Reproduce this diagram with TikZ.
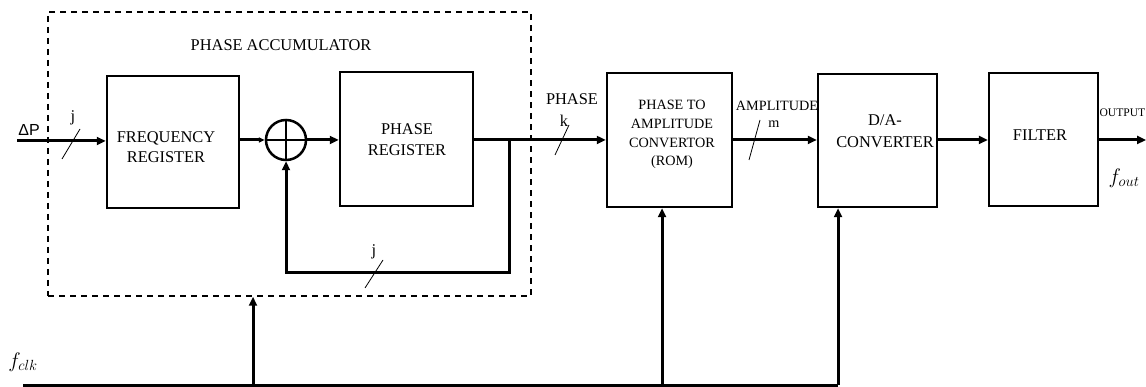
\RequirePackage{fix-cm}
\documentclass[tikz,border=0pt]{standalone}
\usepackage{fontspec}
\setmainfont{Liberation Serif}
\newfontfamily\labelsans{Liberation Sans}
\usetikzlibrary{arrows.meta}
\begin{document}
\begin{tikzpicture}[x=1pt,y=-1pt,
  box/.style={draw, line width=2.5pt, inner sep=0pt},
  sig/.style={line width=3pt, -{Triangle[length=9pt,width=8pt]}},
  wire/.style={line width=3pt},
  slash/.style={line width=0.8pt},
  txt/.style={inner sep=0pt, align=center, font=\fontsize{16.4}{20.5}\selectfont},
  smalltxt/.style={inner sep=0pt, align=center, font=\fontsize{14.2}{18.7}\selectfont},
  mathtxt/.style={inner sep=0pt, font=\fontsize{21}{24}\selectfont}]
\useasboundingbox (0,0) rectangle (1146,387);

% phase accumulator frame
\node[draw, dashed, dash pattern=on 6pt off 5pt, line width=1.5pt, inner sep=0pt,
      minimum width=483pt, minimum height=284pt] (acc) at (289.5,154) {};
\node[txt] (acctitle) at (281,45) {PHASE ACCUMULATOR};

% blocks
\node[box, minimum width=132pt, minimum height=132pt] (freq) at (173,142) {};
\node[txt] (freqtxt) at (166,147) {FREQUENCY\\REGISTER};
\node[box, circle, minimum size=40pt] (add) at (286,140) {};
\draw[line width=2pt] (add.north) -- (add.south) (add.west) -- (add.east);
\node[box, minimum width=133pt, minimum height=134pt] (preg) at (406.5,139) {};
\node[txt] (pregtxt) at (407,139.5) {PHASE\\REGISTER};
\node[box, minimum width=125pt, minimum height=134pt] (rom) at (669.5,140) {};
\node[smalltxt] (romtxt) at (672,134.5) {PHASE TO\\AMPLITUDE\\CONVERTOR\\(ROM)};
\node[box, minimum width=119pt, minimum height=133pt] (da) at (877.5,140.5) {};
\node[txt, font=\fontsize{16.4}{22}\selectfont] (datxt) at (885,131) {D/A-\\CONVERTER};
\node[box, minimum width=109pt, minimum height=133pt] (filt) at (1043.5,139.5) {};
\node[txt] (filttxt) at (1040,135) {FILTER};

% signal path
\coordinate (in) at (17,141);
\coordinate (tap) at (509,140);
\coordinate (fbl) at (509,273);
\coordinate (fbr) at (286,273);
\coordinate (out) at (1146,140);
\draw[sig] (in) -- (freq.west |- in);
\draw[line width=3pt, -{Triangle[length=6pt,width=5pt]}] (freq.east |- add) -- (add.west);
\draw[sig] (add.east) -- (preg.west |- add);
\draw[sig] (preg.east |- tap) -- (rom.west |- tap);
\draw[sig] (tap) -- (fbl) -- (fbr) -- (add.south);
\draw[sig] (rom.east |- tap) -- (da.west |- tap);
\draw[sig] (da.east |- tap) -- (filt.west |- tap);
\draw[sig] (filt.east |- tap) -- (out);

% clock distribution
\coordinate (clk0) at (23,385);
\coordinate (clk1) at (253,385);
\coordinate (clk2) at (662,385);
\coordinate (clk3) at (838,385);
\draw[wire] (clk0) -- (clk3);
\draw[sig] (clk1) -- (acc.south -| clk1);
\draw[sig] (clk2) -- (rom.south -| clk2);
\draw[sig] (clk3) -- (da.south -| clk3);

% bus widths
\draw[slash] (62,159) -- (80,129);
\draw[slash] (365,288) -- (383,260);
\draw[slash] (555,155) -- (569,125);
\draw[slash] (749,160) -- (760,120);
\node[txt] (jin) at (73,118) {j};
\node[txt] (jfb) at (374,252) {j};
\node[txt] (kph) at (564,121) {k};
\node[txt] (phlab) at (572,99) {PHASE};
\node[smalltxt] (mamp) at (774,124) {m};
\node[smalltxt] (amplab) at (777,106) {AMPLITUDE};

% external labels
\node[inner sep=0pt, font=\labelsans\fontsize{16}{19}\selectfont] (dp) at (29,130) {ΔP};
\node[inner sep=0pt, anchor=east, font=\fontsize{11.6}{14}\selectfont] (outlab) at (1145.5,113) {OUTPUT};
\node[mathtxt] (fout) at (1124,178) {$f_{out}$};
\node[mathtxt] (fclk) at (23,362) {$f_{clk}$};
\end{tikzpicture}
\end{document}
